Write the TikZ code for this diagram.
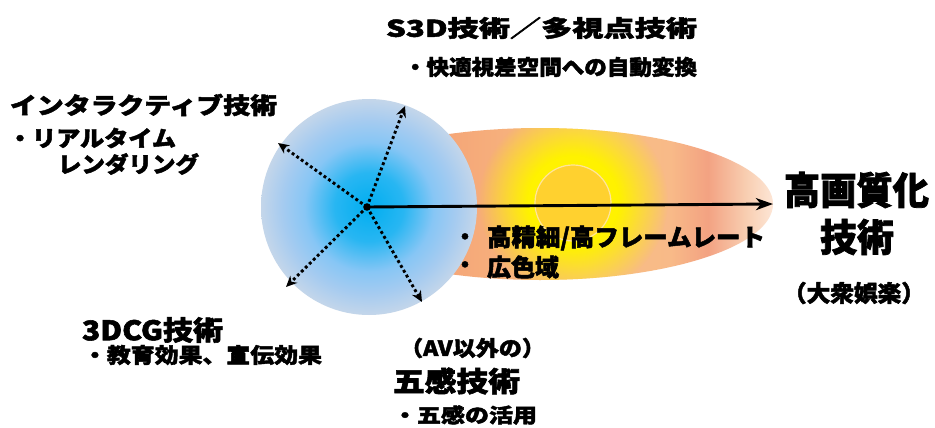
\documentclass[tikz,border=0pt]{standalone}
\usepackage{graphicx}
\usepackage{fontspec}
\setmainfont{Noto Sans CJK JP}[BoldFeatures={FakeBold=2.0}]
\usetikzlibrary{arrows.meta,fadings}
\definecolor{gold}{HTML}{FFD12F}
\definecolor{goldedge}{HTML}{FFE49A}
\pgfdeclareradialshading{bluesh}{\pgfpoint{0bp}{0bp}}{%
  color(0bp)=(rgb,255:red,0;green,174;blue,240);
  color(8bp)=(rgb,255:red,40;green,182;blue,242);
  color(15bp)=(rgb,255:red,135;green,198;blue,245);
  color(20bp)=(rgb,255:red,165;green,203;blue,240);
  color(25bp)=(rgb,255:red,196;green,214;blue,234);
  color(50bp)=(rgb,255:red,196;green,214;blue,234)}
\pgfdeclarehorizontalshading{ellsh}{100bp}{%
  color(0bp)=(rgb,255:red,244;green,160;blue,118);
  color(40bp)=(rgb,255:red,245;green,166;blue,120);
  color(55bp)=(rgb,255:red,248;green,190;blue,130);
  color(64bp)=(rgb,255:red,248;green,186;blue,136);
  color(68bp)=(rgb,255:red,243;green,162;blue,130);
  color(72bp)=(rgb,255:red,248;green,205;blue,176);
  color(75bp)=(rgb,255:red,253;green,230;blue,214);
  color(100bp)=(rgb,255:red,253;green,230;blue,214)}
\pgfdeclareradialshading{glowsh}{\pgfpoint{0bp}{0bp}}{%
  color(0bp)=(white); color(12bp)=(white); color(25bp)=(black); color(50bp)=(black)}
\pgfdeclarefading{glowfade}{\pgfuseshading{glowsh}}
\newcommand{\fitw}[3]{\resizebox{#1pt}{\height}{\fontsize{#2}{#2}\selectfont\bfseries #3}}
\begin{document}
\begin{tikzpicture}[x=1pt,y=-1pt,
  lbl/.style={inner sep=0pt, outer sep=0pt, anchor=west, text=black},
  bul/.style={inner sep=0pt, outer sep=0pt, text=black, font=\fontsize{22}{22}\selectfont\bfseries},
  dotarrow/.style={line width=2.9pt, dash pattern=on 2.9pt off 2.7pt, -{Stealth[length=11pt,width=10pt]}},
  mainarrow/.style={line width=2.9pt, -{Stealth[length=17pt,width=12pt,inset=5pt]}}]
\useasboundingbox (0,0) rectangle (935,428);
\fill[white] (0,0) rectangle (935,428);
% orange ellipse with glow
\begin{scope}
  \clip (540,204) ellipse [x radius=233, y radius=76];
  \shade[shading=ellsh] (540,204) ellipse [x radius=233, y radius=76];
  \fill[yellow, path fading=glowfade] (573,201) circle (95);
\end{scope}
\fill[gold, draw=goldedge, line width=1.2pt] (573,203) circle (38);
% blue sphere
\shade[shading=bluesh] (369,207) circle (108);
% connectors
\coordinate (c) at (367,207);
\coordinate (ur) at (405,106);
\coordinate (ul) at (278,143);
\coordinate (dl) at (286,287);
\coordinate (dr) at (422,302);
\coordinate (hq) at (773,204);
\draw[mainarrow] (c) -- (hq);
\draw[dotarrow] (c) -- (ur);
\draw[dotarrow] (c) -- (ul);
\draw[dotarrow] (c) -- (dl);
\draw[dotarrow] (c) -- (dr);
\fill (c) circle (3.8);
% labels
\node[lbl] (s3d) at (386,28) {\fitw{311}{23}{S3D技術／多視点技術}};
\node[lbl] (s3dsub) at (404,67) {\fitw{293}{21}{・快適視差空間への自動変換}};
\node[lbl] (inter) at (10,105) {\fitw{267}{23}{インタラクティブ技術}};
\node[lbl] (intsub1) at (8,138) {\fitw{168}{22}{・リアルタイム}};
\node[lbl] (intsub2) at (58,164) {\fitw{141}{22}{レンダリング}};
\node[lbl] (cg) at (82,330) {\fitw{141}{27}{3DCG技術}};
\node[lbl] (cgsub) at (83,355) {\fitw{239}{21}{・教育効果、宣伝効果}};
\node[lbl] (av) at (400,348) {\fitw{145}{21}{（AV以外の）}};
\node[lbl] (five) at (393,381) {\fitw{127}{28}{五感技術}};
\node[lbl] (fivesub) at (393,415) {\fitw{144}{20}{・五感の活用}};
\node[bul] (b1) at (465,239) {・};
\node[bul] (b2) at (465,267) {・};
\node[lbl] (hq1) at (487,238) {\fitw{278}{24}{高精細/高フレームレート}};
\node[lbl] (hq2) at (487,267) {\fitw{72}{24}{広色域}};
\node[lbl] (hqt1) at (784,190) {\fitw{145}{38}{高画質化}};
\node[lbl] (hqt2) at (820,237) {\fitw{74}{38}{技術}};
\node[lbl] (ent) at (783,293) {\fitw{142}{23}{（大衆娯楽）}};
\end{tikzpicture}
\end{document}
